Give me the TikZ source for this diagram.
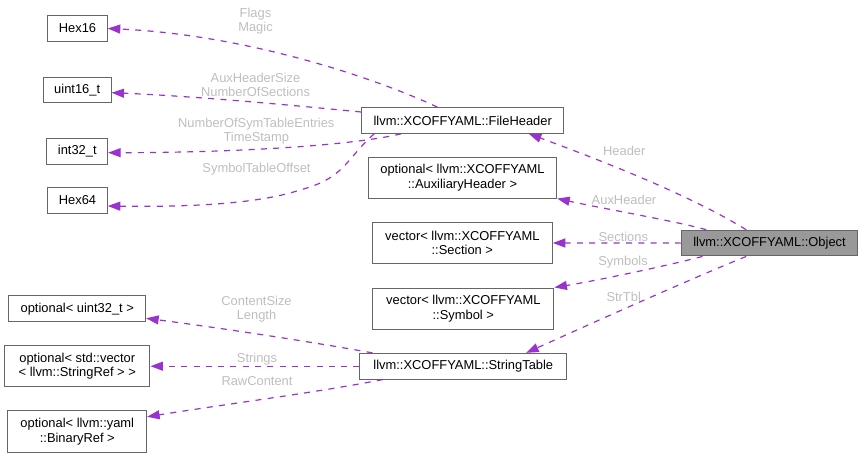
\documentclass[tikz,border=0pt]{standalone}
\usepackage{fontspec}
\setmainfont{Liberation Sans}
\usetikzlibrary{arrows.meta}
\definecolor{edgec}{HTML}{9A32CD}
\definecolor{labc}{HTML}{BEBEBE}
\definecolor{boxc}{HTML}{666666}
\definecolor{objfill}{HTML}{999999}
\begin{document}
\begin{tikzpicture}[x=1pt,y=-1pt,
  box/.style={draw=boxc, line width=1pt, inner sep=0pt, align=center, font=\fontsize{12.9}{14.5}\selectfont},
  rel/.style={draw=edgec, line width=1.2pt, dash pattern=on 6pt off 6.3pt, -{Triangle[length=12.5pt,width=9pt,fill=edgec]}},
  lab/.style={text=labc, font=\fontsize{12.9}{14.5}\selectfont, align=center, inner sep=0pt}]
\useasboundingbox (0,0) rectangle (866,457);
% nodes
\node[box, minimum width=59.6pt, minimum height=26pt] (hex16) at (77.5,28.5) {Hex16};
\node[box, minimum width=67.7pt, minimum height=25.3pt] (uint16) at (77.2,89.7) {uint16\_t};
\node[box, minimum width=60.7pt, minimum height=25.7pt] (int32) at (77.3,151.2) {int32\_t};
\node[box, minimum width=59.6pt, minimum height=25.6pt] (hex64) at (77.5,200.5) {Hex64};
\node[box, minimum width=202pt, minimum height=25.6pt] (fh) at (462.7,120.5) {llvm::XCOFFYAML::FileHeader};
\node[box, minimum width=188.4pt, minimum height=40.3pt] (aux) at (462.5,177.9) {optional< llvm::XCOFFYAML\\::AuxiliaryHeader >};
\node[box, minimum width=180pt, minimum height=40.6pt] (sec) at (462.3,243) {vector< llvm::XCOFFYAML\\::Section >};
\node[box, minimum width=181.3pt, minimum height=41pt] (sym) at (463.3,308.5) {vector< llvm::XCOFFYAML\\::Symbol >};
\node[box, fill=objfill, minimum width=175.6pt, minimum height=25.7pt] (obj) at (769.5,243.1) {llvm::XCOFFYAML::Object};
\node[box, minimum width=206.7pt, minimum height=25.7pt] (st) at (463.3,366.2) {llvm::XCOFFYAML::StringTable};
\node[box, minimum width=136.7pt, minimum height=26pt] (u32) at (77.3,308.7) {optional< uint32\_t >};
\node[box, minimum width=145.3pt, minimum height=41pt] (vec) at (77.3,366.2) {optional< std::vector\\< llvm::StringRef > >};
\node[box, minimum width=138.7pt, minimum height=41.7pt] (yaml) at (77.3,431.8) {optional< llvm::yaml\\::BinaryRef >};
% edges
\draw[rel] ([xshift=76.3pt]fh.north west) .. controls (380,80) and (250,35) .. (hex16.east);
\draw[rel] ([yshift=8.5pt]fh.west) .. controls (280,104) and (190,96) .. ([yshift=-3pt]uint16.east);
\draw[rel] ([xshift=40pt]fh.south west) .. controls (350,146) and (230,152.7) .. ([yshift=-1.5pt]int32.east);
\draw[rel] ([xshift=13pt]fh.south west) .. controls (345,160) and (345,178) .. (300,190) .. controls (255,205) and (180,207) .. ([yshift=-5.5pt]hex64.east);
\draw[rel] ([xshift=65pt]obj.north west) .. controls (690,195) and (600,160) .. ([xshift=-35.4pt]fh.south east);
\draw[rel] ([xshift=25pt]obj.north west) .. controls (680,222) and (600,208) .. (aux.south east);
\draw[rel] (obj.west) -- (sec.east);
\draw[rel] ([xshift=21.3pt]obj.south west) .. controls (670,265) and (600,280) .. (sym.north east);
\draw[rel] ([xshift=65pt]obj.south west) .. controls (700,275) and (610,315) .. ([xshift=166.7pt]st.north west);
\draw[rel] ([xshift=13pt]st.north west) .. controls (300,340) and (220,328) .. ([yshift=-9.6pt]u32.east);
\draw[rel] (st.west) -- (vec.east);
\draw[rel] ([xshift=23.3pt]st.south west) .. controls (320,392) and (220,405) .. ([yshift=15pt]yaml.east);
% labels
\node[lab] (l1) at (255.5,21.3) {Flags\\Magic};
\node[lab] (l2) at (255.5,85) {AuxHeaderSize\\NumberOfSections};
\node[lab] (l3) at (256.3,131) {NumberOfSymTableEntries\\TimeStamp};
\node[lab] (l4) at (256.5,168.7) {SymbolTableOffset};
\node[lab] (l5) at (624.3,150.7) {Header};
\node[lab] (l6) at (624,200.3) {AuxHeader};
\node[lab] (l7) at (623.3,236.7) {Sections};
\node[lab] (l8) at (623,261.7) {Symbols};
\node[lab] (l9) at (623.7,296.7) {StrTbl};
\node[lab] (l10) at (256.5,309) {ContentSize\\Length};
\node[lab] (l11) at (257,359) {Strings};
\node[lab] (l12) at (257,381) {RawContent};
\end{tikzpicture}
\end{document}
